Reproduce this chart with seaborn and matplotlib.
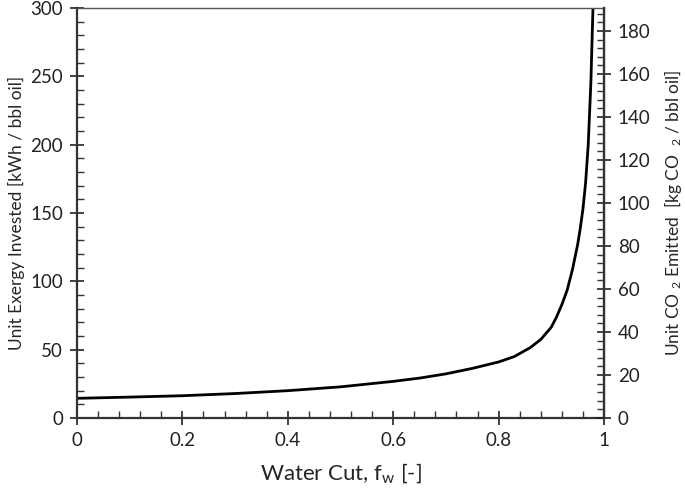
import numpy as np
import matplotlib
matplotlib.use('Agg')
import matplotlib.pyplot as plt
import matplotlib.ticker as mtick
import seaborn as sns

# Values
water_cut = [0.0, 0.1, 0.2, 0.3, 0.4, 0.5, 0.6, 0.65, 0.7, 0.75, 0.8, 0.83,
             0.86, 0.88, 0.9, 0.91, 0.92, 0.93, 0.94, 0.95, 0.955, 0.96,
             0.965, 0.97, 0.975, 0.979]
exergy = [14.4, 15.3, 16.3, 17.9, 20.0, 22.8, 26.8, 29.2, 32.3, 36.3, 41.0,
          45.0, 51.5, 57.5, 66.5, 74.0, 83.0, 93.5, 108.5, 127.0, 139.0,
          153.0, 172.0, 200.0, 245.0, 300.0]

# Right axis limit matches 300 kWh on the left
co2_max = 190.7
x_ticks = [0, 0.2, 0.4, 0.6, 0.8, 1]


def plot_exergy(x, y):
    sns.set_style('ticks')
    plt.rcParams['font.family'] = ['Lato', 'DejaVu Sans']
    plt.rcParams['mathtext.fontset'] = 'custom'
    plt.rcParams['mathtext.rm'] = 'Lato'
    plt.rcParams['mathtext.it'] = 'Lato'

    fig = plt.figure(figsize=(6.85, 4.92), dpi=100)
    ax = fig.add_axes([0.1124, 0.1504, 0.7694, 0.8333])

    sns.lineplot(x=x, y=y, ax=ax, color='black', linewidth=2.0)
    ax.lines[0].set_solid_joinstyle('round')

    ax.set_xlim(0, 1)
    ax.set_ylim(0, 300)
    ax.set_xticks(x_ticks)
    ax.xaxis.set_major_formatter(mtick.FuncFormatter(lambda v, p: f'{v:g}'))
    ax.xaxis.set_minor_locator(mtick.MultipleLocator(0.04))
    ax.yaxis.set_major_locator(mtick.MultipleLocator(50))
    ax.yaxis.set_minor_locator(mtick.MultipleLocator(10))

    ax.tick_params(which='major', direction='inout', length=10, width=1.2,
                   labelsize=13.5, colors='#222222', pad=5)
    ax.tick_params(which='minor', direction='in', length=5, width=1.0,
                   colors='#333333')
    ax.tick_params(top=False, right=False, which='both')

    for side in ['left', 'bottom', 'right']:
        ax.spines[side].set_color('#333333')
        ax.spines[side].set_linewidth(1.6)
    ax.spines['top'].set_color('#555555')
    ax.spines['top'].set_linewidth(1.0)

    ax.set_xlabel('Water Cut, f$_{\\mathrm{w}}$ [-]', fontsize=16, labelpad=9)
    ax.set_ylabel('Unit Exergy Invested [kWh / bbl oil]', fontsize=12.5,
                  labelpad=4)

    # Secondary axis for emitted CO2
    ax2 = ax.twinx()
    ax2.set_ylim(0, co2_max)
    ax2.yaxis.set_major_locator(mtick.MultipleLocator(20))
    ax2.yaxis.set_minor_locator(mtick.MultipleLocator(4))
    ax2.tick_params(which='major', direction='inout', length=10, width=1.2,
                    labelsize=13.5, colors='#222222', pad=5)
    ax2.tick_params(which='minor', direction='in', length=5, width=1.0,
                    colors='#333333')
    for side in ['left', 'bottom', 'top']:
        ax2.spines[side].set_visible(False)
    ax2.spines['right'].set_color('#333333')
    ax2.spines['right'].set_linewidth(1.6)
    ax2.set_ylabel('Unit CO $_{2}$ Emitted  [kg CO  $_{2}$ / bbl oil]',
                   fontsize=12.5, labelpad=8)

    fig.savefig('out.png', dpi=100)


if __name__ == '__main__':
    plot_exergy(water_cut, exergy)
